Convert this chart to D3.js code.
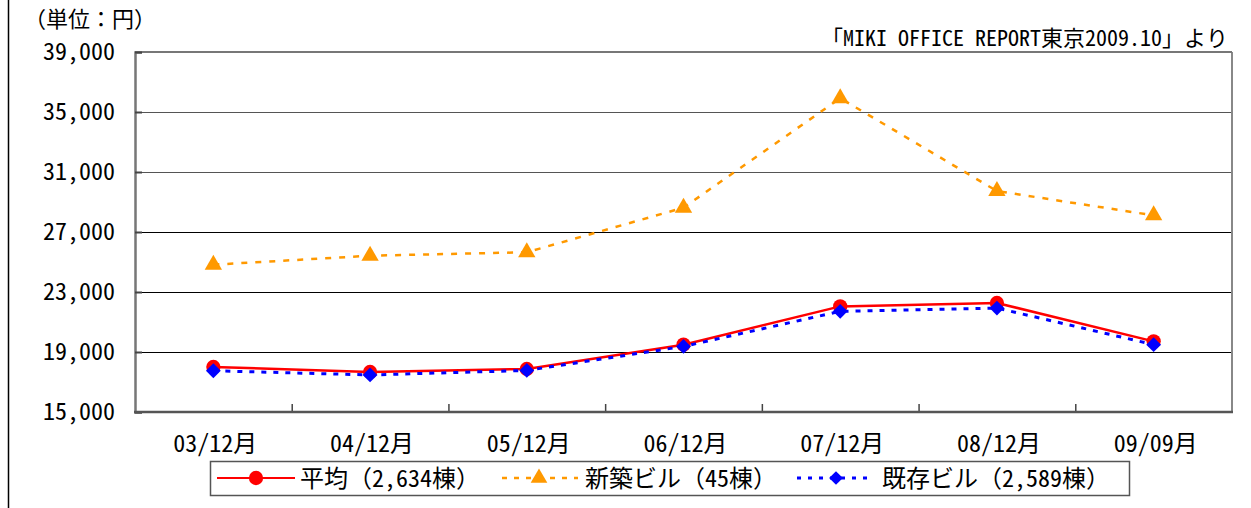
<!DOCTYPE html>
<html><head><meta charset="utf-8">
<script src="https://cdn.jsdelivr.net/npm/d3@7"></script>
<style>
html,body{margin:0;padding:0;background:#fff;}
svg text{font-family:"Noto Sans Mono CJK JP","DejaVu Sans Mono","Noto Sans CJK JP",monospace;fill:#000;}
</style></head>
<body>
<svg id="c" width="1251" height="508"></svg>
<script>
const categories = ["03/12月","04/12月","05/12月","06/12月","07/12月","08/12月","09/09月"];
const avgValues = [18000, 17670, 17870, 19490, 22040, 22270, 19710];
const newValues = [24820, 25420, 25650, 28620, 35920, 29730, 28110];
const oldValues = [17750, 17470, 17770, 19370, 21710, 21930, 19490];
const yTicks = [15000, 19000, 23000, 27000, 31000, 35000, 39000];
const seriesNames = ["平均（2,634棟）","新築ビル（45棟）","既存ビル（2,589棟）"];
const unitLabel = "（単位：円）";
const sourceLabel = "「MIKI OFFICE REPORT東京2009.10」より";

const svg = d3.select("#c");
const L = 135, R = 1232, T = 52, B = 412;
const x = d3.scaleBand().domain(categories).range([L, R]);
const y = d3.scaleLinear().domain([15000, 39000]).range([B, T]);

// outer left border
svg.append("line").attr("x1",8.5).attr("x2",8.5).attr("y1",0).attr("y2",508).attr("stroke","#000").attr("stroke-width",1.5);

// gridlines
svg.append("g").selectAll("line").data(yTicks).join("line")
  .attr("x1",L).attr("x2",R).attr("y1",d=>Math.round(y(d))+0.5).attr("y2",d=>Math.round(y(d))+0.5)
  .attr("stroke",(d,i)=>i>=yTicks.length-3?"#555":"#000").attr("stroke-width",1.2);
// right border
svg.append("line").attr("x1",R).attr("x2",R).attr("y1",T).attr("y2",B).attr("stroke","#888").attr("stroke-width",2);
svg.append("line").attr("x1",L).attr("x2",R).attr("y1",T).attr("y2",T).attr("stroke","#777").attr("stroke-width",2);

// y axis
const yAxis = d3.axisRight(y).tickValues(yTicks).tickSize(7).tickFormat("");
const gy = svg.append("g").attr("transform",`translate(${L},0)`).call(yAxis);
gy.select(".domain").attr("stroke","#777").attr("stroke-width",2.5);
gy.selectAll(".tick line").attr("stroke","#444").attr("stroke-width",2);
svg.append("g").selectAll("text").data(yTicks).join("text")
  .attr("x",115).attr("y",d=>y(d)+8).attr("text-anchor","end")
  .attr("font-size",24).text(d=>d3.format(",")(d));

// x axis
const xb = d3.scaleLinear().domain([0,categories.length]).range([L,R]);
const xAxis = d3.axisTop(xb).tickValues(d3.range(1,categories.length)).tickSize(8).tickFormat("");
const gx = svg.append("g").attr("transform",`translate(0,${B})`).call(xAxis);
gx.select(".domain").remove();
gx.selectAll(".tick line").attr("stroke","#444").attr("stroke-width",1.5);
svg.append("line").attr("x1",L-1).attr("x2",R+1).attr("y1",B).attr("y2",B).attr("stroke","#555").attr("stroke-width",2.5);
svg.append("g").selectAll("text").data(categories).join("text")
  .attr("x",d=>x(d)+x.bandwidth()/2+2).attr("y",452).attr("text-anchor","middle")
  .attr("font-size",24).text(d=>d);

// labels
svg.append("text").attr("x",24).attr("y",27).attr("font-size",22).text(unitLabel);
svg.append("text").attr("x",1228).attr("y",46).attr("text-anchor","end").attr("font-size",22).text(sourceLabel);

const cx = d=>x(d)+x.bandwidth()/2;
const line = d3.line().x(d=>cx(d[0])).y(d=>y(d[1]));
const sym = (type,size)=>d3.symbol().type(type).size(size)();

function drawSeries(vals,color,dash,width,marker){
  const pts = categories.map((c,i)=>[c,vals[i]]);
  svg.append("path").datum(pts).attr("d",line).attr("fill","none")
    .attr("stroke",color).attr("stroke-width",width).attr("stroke-dasharray",dash);
  svg.append("g").selectAll("path").data(pts).join("path")
    .attr("transform",d=>`translate(${cx(d[0])},${y(d[1])})`)
    .attr("d",marker).attr("fill",color);
}
drawSeries(newValues,"#ff9900","6,8",2.5,sym(d3.symbolTriangle,130));
drawSeries(avgValues,"#ff0000",null,2.5,sym(d3.symbolCircle,160));
drawSeries(oldValues,"#0000ff","5,7",3,sym(d3.symbolDiamond2,140));

// legend
const lg = svg.append("g");
lg.append("rect").attr("x",210.5).attr("y",461.5).attr("width",919).attr("height",34)
  .attr("fill","#fff").attr("stroke","#555").attr("stroke-width",1.5);
const items = [
  {name:seriesNames[0],color:"#ff0000",dash:null,w:2,x1:217,x2:295,m:256,tx:300,marker:sym(d3.symbolCircle,160)},
  {name:seriesNames[1],color:"#ff9900",dash:"5,7",w:2.5,x1:502,x2:578,m:539,tx:585,marker:sym(d3.symbolTriangle,120)},
  {name:seriesNames[2],color:"#0000ff",dash:"4,7",w:3,x1:797,x2:874,m:836,tx:882,marker:sym(d3.symbolDiamond2,120)}
];
items.forEach(it=>{
  lg.append("line").attr("x1",it.x1).attr("x2",it.x2).attr("y1",478).attr("y2",478)
    .attr("stroke",it.color).attr("stroke-width",it.w).attr("stroke-dasharray",it.dash);
  lg.append("path").attr("transform",`translate(${it.m},478)`).attr("d",it.marker).attr("fill",it.color);
  lg.append("text").attr("x",it.tx).attr("y",487).attr("font-size",24).text(it.name);
});
</script>
</body></html>
